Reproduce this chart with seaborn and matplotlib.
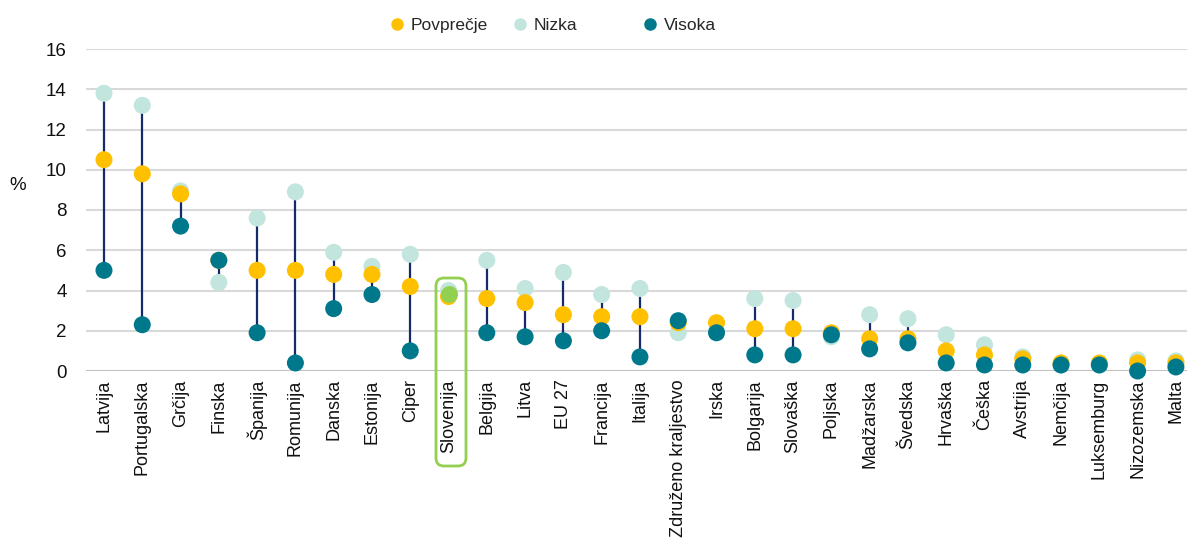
import matplotlib
matplotlib.use("Agg")
import matplotlib.pyplot as plt
from matplotlib.lines import Line2D
from matplotlib.patches import FancyBboxPatch
from matplotlib.transforms import IdentityTransform
import numpy as np
import pandas as pd
import seaborn as sns

countries = ["Latvija", "Portugalska", "Grčija", "Finska", "Španija", "Romunija",
             "Danska", "Estonija", "Ciper", "Slovenija", "Belgija", "Litva", "EU 27",
             "Francija", "Italija", "Združeno kraljestvo", "Irska", "Bolgarija",
             "Slovaška", "Poljska", "Madžarska", "Švedska", "Hrvaška", "Češka",
             "Avstrija", "Nemčija", "Luksemburg", "Nizozemska", "Malta"]
povprecje = [10.5, 9.8, 8.8, 5.5, 5.0, 5.0, 4.8, 4.8, 4.2, 3.7, 3.6, 3.4, 2.8,
             2.7, 2.7, 2.4, 2.4, 2.1, 2.1, 1.9, 1.6, 1.6, 1.0, 0.8, 0.6, 0.4,
             0.4, 0.4, 0.4]
nizka = [13.8, 13.2, 8.95, 4.4, 7.6, 8.9, 5.9, 5.2, 5.8, 4.0, 5.5, 4.1, 4.9,
         3.8, 4.1, 1.9, 2.0, 3.6, 3.5, 1.7, 2.8, 2.6, 1.8, 1.3, 0.7, 0.3,
         0.3, 0.55, 0.5]
visoka = [5.0, 2.3, 7.2, 5.5, 1.9, 0.4, 3.1, 3.8, 1.0, 3.85, 1.9, 1.7, 1.5,
          2.0, 0.7, 2.5, 1.9, 0.8, 0.8, 1.8, 1.1, 1.4, 0.4, 0.3, 0.3, 0.3,
          0.3, 0.0, 0.2]
highlight = "Slovenija"

c_avg = "#FFC000"
c_low = "#C2E5DD"
c_high = "#00788C"
c_line = "#142a6b"
c_green = "#92D050"

W, H = 1187, 538
sns.set_theme(style="white")
plt.rcParams["font.family"] = ["Liberation Sans", "DejaVu Sans"]

fig = plt.figure(figsize=(W / 100, H / 100), dpi=100)
ax = fig.add_axes([86 / W, 1 - 371 / H, 1 - 86 / W, (371 - 49) / H])

x = np.arange(len(countries))
hi_idx = countries.index(highlight)

# Long table: drawing order low -> average -> high gives the layering
rows = []
for name, vals in (("Nizka", nizka), ("Povprečje", povprecje), ("Visoka", visoka)):
    for i, (c, v) in enumerate(zip(countries, vals)):
        if name == "Visoka" and c == highlight:
            continue
        rows.append({"pos": i, "val": v, "serija": name})
df = pd.DataFrame(rows)

ax.vlines(x, nizka, visoka, color=c_line, lw=1.6, zorder=2)
sns.scatterplot(data=df, x="pos", y="val", hue="serija",
                palette={"Nizka": c_low, "Povprečje": c_avg, "Visoka": c_high},
                s=150, linewidth=0, legend=False, ax=ax, zorder=3, clip_on=False)
sns.scatterplot(x=[hi_idx], y=[visoka[hi_idx]], color=c_green, s=150,
                linewidth=0, legend=False, ax=ax, zorder=4, clip_on=False)

ax.set_xlim(-0.47, 28.29)
ax.set_ylim(0, 16)
ax.set_yticks(np.arange(0, 17, 2))
ax.set_xticks(x)
ax.set_xticklabels(countries, rotation=90, fontsize=13, color="#111111")
ax.tick_params(axis="y", labelsize=13.5, colors="#111111", length=0, pad=14)
ax.tick_params(axis="x", length=0, pad=6)
ax.set_xlabel("")
ax.set_ylabel("")
ax.yaxis.grid(True, color="#d9d9d9", lw=1.5)
ax.set_axisbelow(True)
for s in ax.spines.values():
    s.set_visible(False)
ax.axhline(0, color="#bfbfbf", lw=2, zorder=1)

fig.text(18 / W, 1 - 186 / H, "%", fontsize=13.5, color="#111111",
         ha="center", va="center")

# Legend entries placed individually along the top
entries = [("Povprečje", c_avg, 388), ("Nizka", c_low, 511), ("Visoka", c_high, 641)]
for label, col, px in entries:
    h = Line2D([], [], marker="o", ls="", color=col, markersize=8)
    fig.legend(handles=[h], labels=[label], loc="center left",
               bbox_to_anchor=(px / W, 1 - 25 / H), frameon=False,
               fontsize=12.5, handletextpad=0.3, handlelength=1.0,
               borderpad=0, borderaxespad=0)

# Rounded frame around the highlighted country
x0, x1 = 436, 466
y_top_px, y_bot_px = 278, 466
box = FancyBboxPatch((x0, H - y_bot_px), x1 - x0, y_bot_px - y_top_px,
                     boxstyle="round,pad=0,rounding_size=8",
                     transform=IdentityTransform(), fill=False,
                     edgecolor=c_green, lw=2, zorder=5)
fig.patches.append(box)

fig.savefig("out.png", dpi=100)
